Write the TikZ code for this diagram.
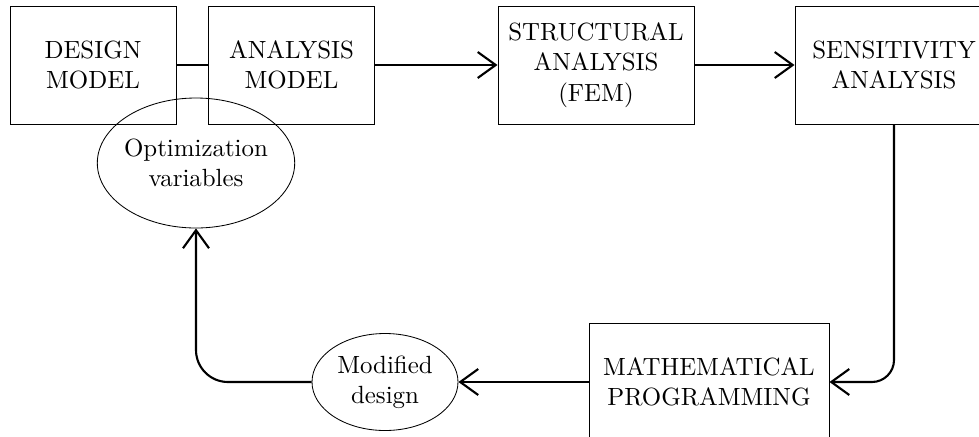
\documentclass[tikz,border=0pt]{standalone}
\usepackage{amsmath}
\usepackage{fontspec}
\usepackage{tikz}
\usetikzlibrary{arrows.meta,shapes.geometric}

% text face: the 10pt design of Latin Modern, blown up
\newfontfamily\boxfont{lmroman10-regular.otf}

\tikzset{
  block/.style={draw,line width=0.7pt,minimum width=4.15cm,minimum height=2.95cm,
    align=center,font=\boxfont\fontsize{17.7}{21.5}\selectfont,inner sep=0pt},
  blob/.style={draw,ellipse,line width=0.6pt,align=center,
    font=\boxfont\fontsize{17.7}{21.5}\selectfont,inner sep=-1.5pt},
  link/.style={line width=1.5pt},
  flow/.style={link,-{Straight Barb[length=4.5mm,width=6.5mm,line width=1.5pt]}}
}

\begin{document}
\begin{tikzpicture}
\useasboundingbox (0,0) rectangle (24.475,-10.9);
\clip (0,0) rectangle (24.475,-10.9);

% top row
\node[block] (design) at (2.325,-1.625) {DESIGN\\MODEL};
\node[block] (anmodel) at (7.2875,-1.625) {ANALYSIS\\MODEL};
\node[block,minimum width=4.9cm] (fem) at (14.9,-1.625) {STRUCTURAL\\ANALYSIS\\(FEM)};
\node[block,minimum width=4.95cm] (sens) at (22.35,-1.625) {SENSITIVITY\\ANALYSIS};

% bottom row
\node[block,minimum width=6cm] (mathprog) at (17.725,-9.55) {MATHEMATICAL\\PROGRAMMING};
\node[blob,minimum width=3.65cm,minimum height=2.425cm] (moddes) at (9.625,-9.55) {Modified\\design};

% variables
\node[blob,minimum width=4.9cm,minimum height=3.25cm] (optvar) at (4.9,-4.075) {Optimization\\variables};

\draw[link] (design) -- (anmodel);
\draw[flow] (anmodel) -- (fem);
\draw[flow] (fem) -- (sens);
\draw[flow,rounded corners=0.55cm] (sens.south) |- (mathprog.east);
\draw[flow] (mathprog) -- (moddes);
\draw[flow,rounded corners=0.8cm] (moddes.west) -| (optvar.south);
\end{tikzpicture}
\end{document}
